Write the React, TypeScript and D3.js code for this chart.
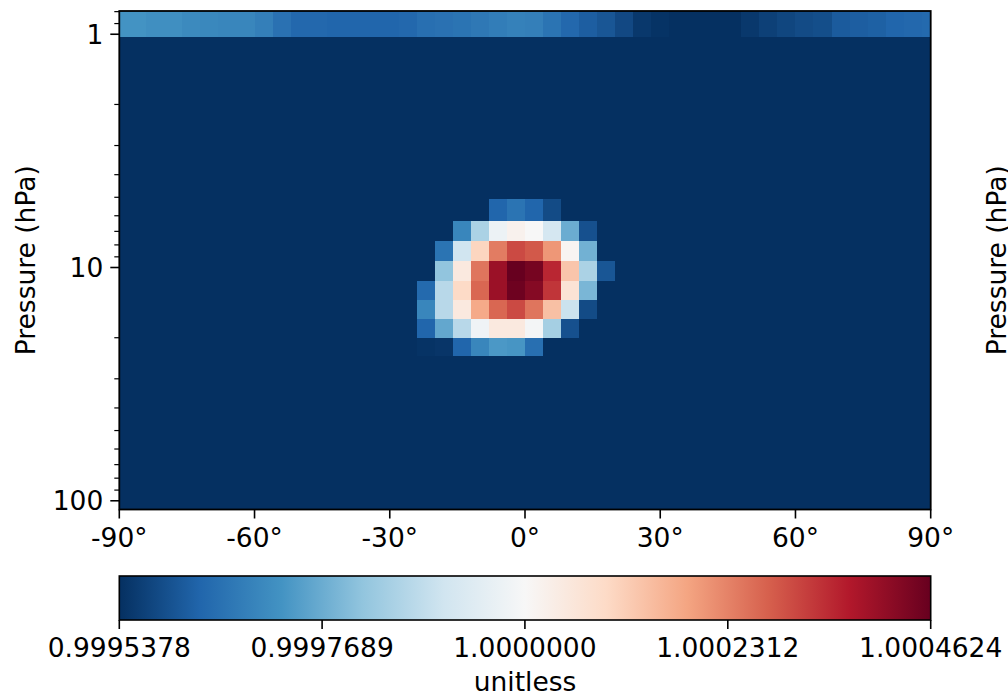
import React from "react";
import * as d3 from "d3";

// ---- data ----
const VMIN = 0.9995378;
const VMAX = 1.0004624;
const BACKGROUND = 0.9995378;

// latitude cell centres (deg)
const latitudes = [
  -90, -86, -82, -78, -74, -70, -66, -62, -58, -54, -50, -46, -42, -38, -34, -30,
  -26, -22, -18, -14, -10, -6, -2, 2, 6, 10, 14, 18, 22, 26, 30, 34, 38, 42, 46,
  50, 54, 58, 62, 66, 70, 74, 78, 82, 86, 90,
];

// pressure level edges (hPa), top to bottom
const pressureEdges = [
  0.795, 1.028, 1.26, 1.55, 1.9, 2.33, 2.86, 3.5, 4.25, 5.085, 6.32, 7.7, 9.38,
  11.43, 13.79, 16.63, 20.06, 23.96, 28.6, 34.1, 40.7, 48.5, 57.8, 68.9, 82.1,
  97.8, 109,
];

// topmost level values, one per latitude
const topLevelValues = [
  0.9997227, 0.9997227, 0.9997135, 0.9997135, 0.9997042, 0.9996996, 0.999695,
  0.999695, 0.9996811, 0.9996534, 0.9996349, 0.9996349, 0.9996303, 0.9996303,
  0.9996303, 0.9996303, 0.9996349, 0.9996488, 0.9996534, 0.999658, 0.9996672,
  0.9996765, 0.9996857, 0.9996811, 0.999658, 0.9996349, 0.9996164, 0.9996025,
  0.9995794, 0.9995517, 0.9995424, 0.9995378, 0.9995378, 0.9995378, 0.9995378,
  0.9995517, 0.9995655, 0.9995748, 0.999584, 0.9995887, 0.9996118, 0.9996164,
  0.999621, 0.9996303, 0.9996349, 0.9996395,
];

// anomaly block: levels 9..16, latitudes -22..22
const blobFirstLevel = 9;
const blobLatitudes = [-22, -18, -14, -10, -6, -2, 2, 6, 10, 14, 18, 22];
const blobValues = [
  [0.9995378, 0.9995378, 0.9995378, 0.9995378, 0.9996303, 0.999658, 0.9996303, 0.999584, 0.9995378, 0.9995378, 0.9995378, 0.9995378],
  [0.9995378, 0.9995378, 0.999695, 0.9998522, 0.9999724, 1.0000186, 1.0, 0.9999169, 0.999769, 0.9995933, 0.9995378, 0.9995378],
  [0.9995378, 0.999658, 0.9999076, 1.0001019, 1.0002405, 1.0003052, 1.0002867, 1.0002035, 1.0000093, 0.9997782, 0.9995378, 0.9995378],
  [0.9995378, 0.9998152, 1.0000463, 1.0002497, 1.0003977, 1.0004624, 1.0004439, 1.0003514, 1.0001296, 0.9998522, 0.9996025, 0.9995378],
  [0.9996395, 0.9998707, 1.0000926, 1.0002682, 1.0003977, 1.0004532, 1.0004254, 1.000333, 1.0000648, 0.9997874, 0.9995378, 0.9995378],
  [0.999695, 0.9998707, 1.0000463, 1.0001758, 1.0002682, 1.0003052, 1.0002497, 1.0001388, 0.9998984, 0.999584, 0.9995378, 0.9995378],
  [0.9996303, 0.9997597, 0.9998707, 0.9999816, 1.0000463, 1.0000463, 0.9999909, 0.9998429, 0.9995933, 0.9995378, 0.9995378, 0.9995378],
  [0.9995424, 0.999547, 0.9996303, 0.999695, 0.999732, 0.9997273, 0.9996488, 0.9995378, 0.9995378, 0.9995378, 0.9995378, 0.9995378],
];

const xTicks = [-90, -60, -30, 0, 30, 60, 90];
const yMajorTicks = [1, 10, 100];
const yMinorTicks = [0.8, 0.9, 2, 3, 4, 5, 6, 7, 8, 9, 20, 30, 40, 50, 60, 70, 80, 90];
const colorbarTicks = [0.9995378, 0.9997689, 1.0, 1.0002312, 1.0004624];
const colorbarTickLabels = ["0.9995378", "0.9997689", "1.0000000", "1.0002312", "1.0004624"];

// RdBu reversed (ColorBrewer 11)
const rdbuR = [
  "#053061", "#2166ac", "#4393c3", "#92c5de", "#d1e5f0", "#f7f7f7",
  "#fddbc7", "#f4a582", "#d6604d", "#b2182b", "#67001f",
];

// ---- layout ----
const W = 1008;
const H = 697;
const plot = { left: 119.3, right: 930.7, top: 11, bottom: 509.5 };
const cbar = { left: 119.3, right: 930.7, top: 576, bottom: 620 };
const FONT = "DejaVu Sans, sans-serif";
const FS = 26.5;
const MAJOR = 9;
const MINOR = 5;

export default function App() {
  const x = d3.scaleLinear().domain([-90, 90]).range([plot.left, plot.right]);
  const y = d3
    .scaleLog()
    .domain([pressureEdges[0], pressureEdges[pressureEdges.length - 1]])
    .range([plot.top, plot.bottom]);

  const colorScale = d3
    .scaleLinear<string>()
    .domain(rdbuR.map((_, i) => VMIN + ((VMAX - VMIN) * i) / (rdbuR.length - 1)))
    .range(rdbuR)
    .interpolate(d3.interpolateRgb)
    .clamp(true);

  const nLevels = pressureEdges.length - 1;
  const grid: number[][] = [];
  for (let r = 0; r < nLevels; r++) {
    grid.push(latitudes.map(() => BACKGROUND));
  }
  grid[0] = topLevelValues.slice();
  blobValues.forEach((row, i) => {
    row.forEach((v, j) => {
      const col = latitudes.indexOf(blobLatitudes[j]);
      grid[blobFirstLevel + i][col] = v;
    });
  });

  const cells: { x0: number; x1: number; y0: number; y1: number; c: string }[] = [];
  grid.forEach((row, r) => {
    row.forEach((v, k) => {
      const lat = latitudes[k];
      const lo = Math.max(-90, lat - 2);
      const hi = Math.min(90, lat + 2);
      cells.push({
        x0: x(lo),
        x1: x(hi),
        y0: y(pressureEdges[r]),
        y1: y(pressureEdges[r + 1]),
        c: colorScale(v),
      });
    });
  });

  const cx = d3.scaleLinear().domain([VMIN, VMAX]).range([cbar.left, cbar.right]);
  const midY = (plot.top + plot.bottom) / 2;

  return (
    <svg width={W} height={H} style={{ display: "block", position: "absolute", left: 0, top: 0 }} fontFamily={FONT}>
      <defs>
        <linearGradient id="cb" x1="0" x2="1" y1="0" y2="0">
          {rdbuR.map((c, i) => (
            <stop key={i} offset={i / (rdbuR.length - 1)} stopColor={c} />
          ))}
        </linearGradient>
        <clipPath id="pc">
          <rect x={plot.left} y={plot.top} width={plot.right - plot.left} height={plot.bottom - plot.top} />
        </clipPath>
      </defs>
      <rect x={0} y={0} width={W} height={H} fill="#fff" />

      <g clipPath="url(#pc)" shapeRendering="crispEdges">
        {cells.map((c, i) => (
          <rect key={i} x={c.x0} y={c.y0} width={c.x1 - c.x0 + 0.5} height={c.y1 - c.y0 + 0.5} fill={c.c} />
        ))}
      </g>
      <rect x={plot.left} y={plot.top} width={plot.right - plot.left} height={plot.bottom - plot.top} fill="none" stroke="#000" strokeWidth={1.8} />

      {/* x axis */}
      {xTicks.map((t) => (
        <g key={t}>
          <line x1={x(t)} x2={x(t)} y1={plot.bottom} y2={plot.bottom + MAJOR} stroke="#000" strokeWidth={1.6} />
          <text x={x(t)} y={plot.bottom + MAJOR + 28} textAnchor="middle" fontSize={FS}>
            {`${t}°`}
          </text>
        </g>
      ))}

      {/* y axis */}
      {yMajorTicks.map((t) => (
        <g key={t}>
          <line x1={plot.left - MAJOR} x2={plot.left} y1={y(t)} y2={y(t)} stroke="#000" strokeWidth={1.6} />
          <text x={plot.left - MAJOR - 7} y={y(t)} dy="0.36em" textAnchor="end" fontSize={FS}>
            {t}
          </text>
        </g>
      ))}
      {yMinorTicks.map((t) => (
        <line key={t} x1={plot.left - MINOR} x2={plot.left} y1={y(t)} y2={y(t)} stroke="#000" strokeWidth={1.2} />
      ))}
      <text transform={`translate(35,${midY}) rotate(-90)`} textAnchor="middle" fontSize={FS}>
        Pressure (hPa)
      </text>
      <text transform={`translate(1006,${midY}) rotate(-90)`} textAnchor="middle" fontSize={FS}>
        Pressure (hPa)
      </text>

      {/* colorbar */}
      <rect x={cbar.left} y={cbar.top} width={cbar.right - cbar.left} height={cbar.bottom - cbar.top} fill="url(#cb)" stroke="#000" strokeWidth={1.6} />
      {colorbarTicks.map((t, i) => (
        <g key={i}>
          <line x1={cx(t)} x2={cx(t)} y1={cbar.bottom} y2={cbar.bottom + MAJOR} stroke="#000" strokeWidth={1.6} />
          <text x={cx(t)} y={cbar.bottom + MAJOR + 28} textAnchor="middle" fontSize={FS}>
            {colorbarTickLabels[i]}
          </text>
        </g>
      ))}
      <text x={(cbar.left + cbar.right) / 2} y={691} textAnchor="middle" fontSize={FS}>
        unitless
      </text>
    </svg>
  );
}
